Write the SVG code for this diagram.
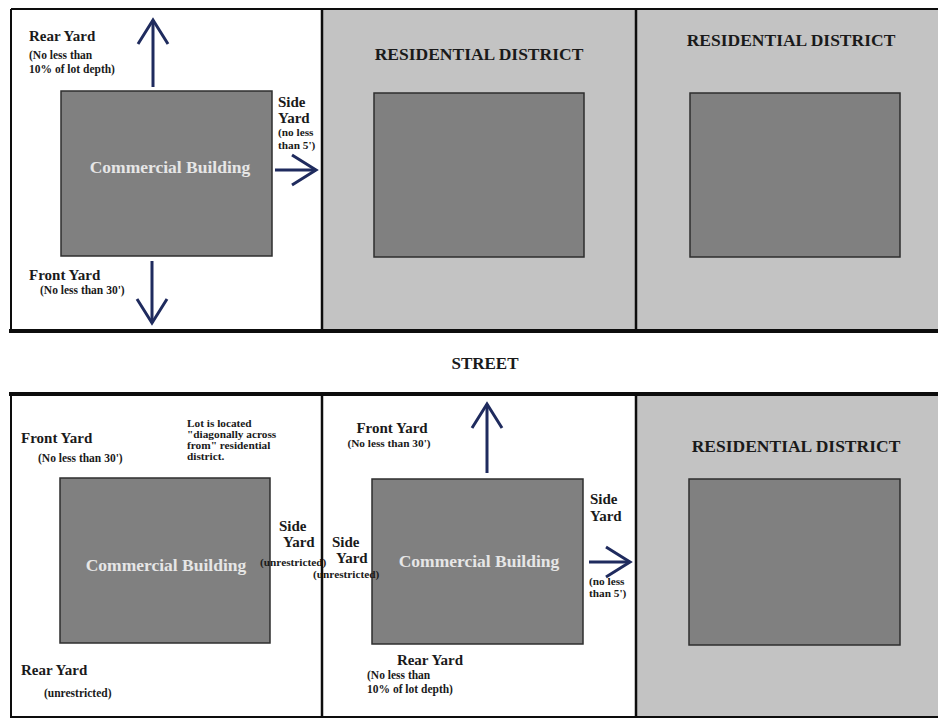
<svg xmlns="http://www.w3.org/2000/svg" width="938" height="719" viewBox="0 0 938 719">
<defs>
<style>
.t{font-family:"Liberation Serif","Times New Roman",serif;font-weight:bold;fill:#1a1a1a}
.lg{font-size:15px}
.sm{font-size:11.5px}
.xs{font-size:11.3px}
.res{font-size:17.5px}
.st{font-size:17px}
.bl{font-family:"Liberation Serif","Times New Roman",serif;font-weight:bold;font-size:17.5px;fill:#e6e6e6;text-anchor:middle}
.mid{text-anchor:middle}
.bld{fill:#808080;stroke:#2e2e2e;stroke-width:1.5}
.lot{fill:none}
.resl{fill:#c3c3c3}
.ln{stroke:#0d0d0d;fill:none}
.arr{stroke:#1f2b5e;stroke-width:3;fill:none;marker-end:url(#chev)}
</style>
<marker id="chev" markerUnits="userSpaceOnUse" viewBox="0 0 30 34" markerWidth="30" markerHeight="34" refX="26" refY="17" orient="auto">
<path d="M2,2 L26,17 L2,32" fill="none" stroke="#1f2b5e" stroke-width="3"/>
</marker>
</defs>
<rect width="938" height="719" fill="#ffffff"/>

<g id="top-commercial-lot">
<rect class="lot" x="11" y="10" width="311" height="320"/>
<rect class="bld" x="61" y="91" width="211" height="165"/>
<text class="bl" x="170" y="173">Commercial Building</text>
<text class="t lg" x="29" y="41">Rear Yard</text>
<text class="t sm" x="29" y="59">(No less than</text>
<text class="t sm" x="29" y="73">10% of lot depth)</text>
<text class="t lg" x="278" y="107">Side</text>
<text class="t lg" x="278" y="123">Yard</text>
<text class="t xs" x="278" y="136">(no less</text>
<text class="t xs" x="278" y="149">than 5')</text>
<text class="t lg" x="29" y="280">Front Yard</text>
<text class="t sm" x="40" y="294">(No less than 30')</text>
</g>

<g id="top-residential-1">
<rect class="resl" x="322" y="10" width="314" height="320"/>
<text class="t res mid" x="479" y="60">RESIDENTIAL DISTRICT</text>
<rect class="bld" x="374" y="93" width="210" height="164"/>
</g>

<g id="top-residential-2">
<rect class="resl" x="636" y="10" width="302" height="320"/>
<text class="t res mid" x="791" y="46">RESIDENTIAL DISTRICT</text>
<rect class="bld" x="690" y="93" width="210" height="164"/>
</g>

<g id="street">
<text class="t st mid" x="485" y="369">STREET</text>
</g>

<g id="bottom-commercial-lot-1">
<rect class="lot" x="11" y="395" width="311" height="321"/>
<rect class="bld" x="60" y="478" width="210" height="165"/>
<text class="bl" x="166" y="571">Commercial Building</text>
<text class="t lg" x="21" y="443">Front Yard</text>
<text class="t sm" x="38" y="462">(No less than 30')</text>
<text class="t xs" x="187" y="427">Lot is located</text>
<text class="t xs" x="187" y="438">"diagonally across</text>
<text class="t xs" x="187" y="449">from" residential</text>
<text class="t xs" x="187" y="460">district.</text>
<text class="t lg" x="279" y="531">Side</text>
<text class="t lg" x="283" y="547">Yard</text>
<text class="t xs" x="260" y="566">(unrestricted)</text>
<text class="t lg" x="21" y="675">Rear Yard</text>
<text class="t sm" x="44" y="697">(unrestricted)</text>
</g>

<g id="bottom-commercial-lot-2">
<rect class="lot" x="322" y="395" width="314" height="321"/>
<rect class="bld" x="372" y="479" width="211" height="165"/>
<text class="bl" x="479" y="567">Commercial Building</text>
<text class="t lg mid" x="392" y="433">Front Yard</text>
<text class="t xs mid" x="389" y="447">(No less than 30')</text>
<text class="t lg" x="332" y="547">Side</text>
<text class="t lg" x="336" y="563">Yard</text>
<text class="t xs" x="313" y="578">(unrestricted)</text>
<text class="t lg" x="590" y="504">Side</text>
<text class="t lg" x="590" y="521">Yard</text>
<text class="t xs" x="589" y="585">(no less</text>
<text class="t xs" x="589" y="597">than 5')</text>
<text class="t lg mid" x="430" y="665">Rear Yard</text>
<text class="t sm" x="367" y="679">(No less than</text>
<text class="t sm" x="367" y="693">10% of lot depth)</text>
</g>

<g id="bottom-residential">
<rect class="resl" x="636" y="395" width="302" height="321"/>
<text class="t res mid" x="796" y="452">RESIDENTIAL DISTRICT</text>
<rect class="bld" x="689" y="479" width="211" height="166"/>
</g>

<g id="borders">
<path class="ln" stroke-width="2" d="M11,9 H938 M11,9 V331"/>
<path class="ln" stroke-width="4" d="M9,331 H938"/>
<path class="ln" stroke-width="2.5" d="M322,9 V331 M636,9 V331"/>
<path class="ln" stroke-width="4" d="M9,394 H938"/>
<path class="ln" stroke-width="2" d="M11,394 V717 H938"/>
<path class="ln" stroke-width="2.5" d="M322,394 V717 M636,394 V717"/>
</g>

<g id="connectors">
<line class="arr" x1="153" y1="87" x2="153" y2="20"/>
<line class="arr" x1="152" y1="261" x2="152" y2="323"/>
<line class="arr" x1="275" y1="170" x2="316" y2="170"/>
<line class="arr" x1="487" y1="473" x2="487" y2="404"/>
<line class="arr" x1="589" y1="562" x2="630" y2="562"/>
</g>
</svg>
